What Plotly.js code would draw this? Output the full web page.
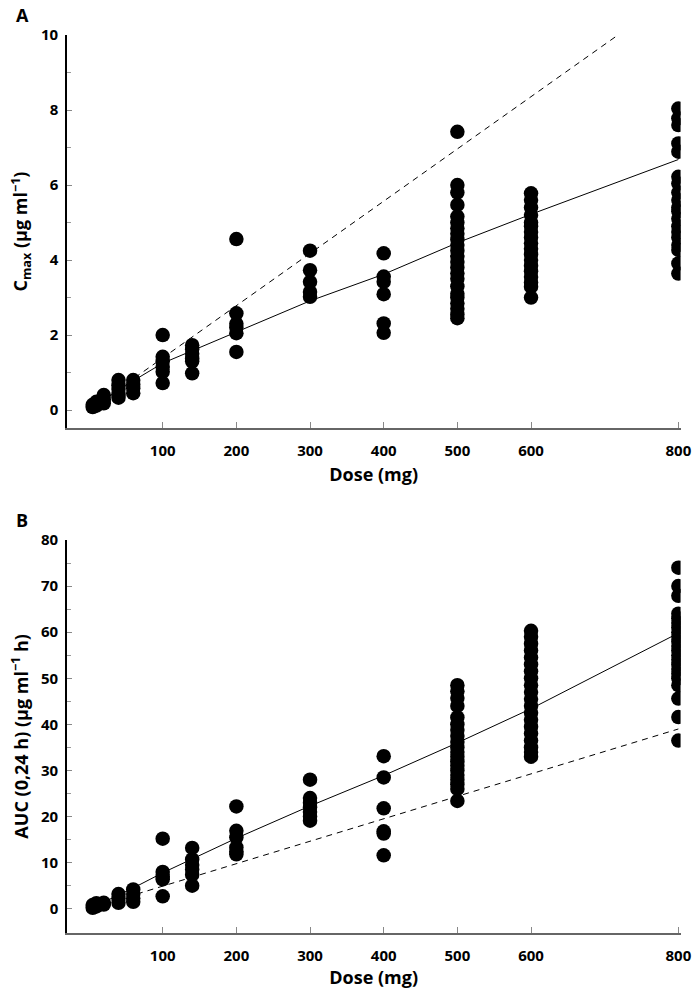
<!DOCTYPE html>
<html>
<head>
<meta charset="utf-8">
<script src="https://cdn.plot.ly/plotly-3.0.1.min.js"></script>
<style>html,body{margin:0;padding:0;background:#fff;}#chart{width:692px;height:989px;}</style>
</head>
<body>
<div id="chart"></div>
<script>
// ---- Data ----
// Panel A: Cmax (µg ml-1) by dose (mg)
const cmaxDose5 = [0.08, 0.14];
const cmaxDose10 = [0.22, 0.12];
const cmaxDose20 = [0.40, 0.28, 0.18];
const cmaxDose40 = [0.80, 0.66, 0.56, 0.42, 0.33];
const cmaxDose60 = [0.80, 0.68, 0.58, 0.45];
const cmaxDose100 = [2.00, 1.42, 1.30, 1.15, 1.02, 0.72];
const cmaxDose140 = [1.73, 1.62, 1.50, 1.38, 1.30, 0.98];
const cmaxDose200 = [4.56, 2.58, 2.30, 2.20, 2.05, 1.55];
const cmaxDose300 = [4.25, 3.73, 3.42, 3.15, 3.02];
const cmaxDose400 = [4.18, 3.56, 3.42, 3.09, 2.31, 2.06];
const cmaxDose500 = [7.42, 6.00, 5.80, 5.47, 5.16, 5.00, 4.85, 4.70, 4.55, 4.40, 4.25, 4.10, 3.95, 3.80, 3.65, 3.50, 3.30, 3.10, 3.00, 2.85, 2.70, 2.55, 2.45];
const cmaxDose600 = [5.78, 5.60, 5.40, 5.20, 5.00, 4.90, 4.75, 4.60, 4.45, 4.30, 4.15, 4.00, 3.85, 3.70, 3.55, 3.40, 3.29, 3.00];
const cmaxDose800 = [8.04, 7.78, 7.60, 7.11, 6.89, 6.22, 6.04, 5.80, 5.60, 5.40, 5.30, 5.10, 4.90, 4.75, 4.60, 4.40, 4.27, 3.91, 3.64];
const cmaxFitDose = [5, 60, 100, 200, 300, 400, 500, 600, 800];
const cmaxFit = [0.08, 0.78, 1.25, 2.09, 2.91, 3.62, 4.46, 5.22, 6.68];
const cmaxPropDose = [62, 718];
const cmaxProp = [0.86, 10.0];

// Panel B: AUC(0,24 h) (µg ml-1 h) by dose (mg)
const aucDose5 = [0.2, 0.8];
const aucDose10 = [0.5, 1.2];
const aucDose20 = [0.9, 1.3];
const aucDose40 = [3.2, 2.2, 1.3];
const aucDose60 = [4.2, 3.2, 2.3, 1.5];
const aucDose100 = [15.2, 8.0, 7.0, 6.4, 2.7];
const aucDose140 = [13.2, 10.7, 9.5, 8.5, 7.4, 5.0];
const aucDose200 = [22.2, 16.9, 15.5, 13.3, 12.5, 11.8];
const aucDose300 = [28.0, 24.0, 23.0, 22.0, 21.0, 20.0, 19.1];
const aucDose400 = [33.1, 28.5, 21.8, 16.8, 16.3, 11.6];
const aucDose500 = [48.5, 47.2, 45.7, 44.0, 41.5, 40.0, 38.8, 37.5, 36.2, 35.0, 34.0, 33.0, 32.0, 31.0, 30.0, 29.0, 28.0, 27.0, 26.0, 23.4];
const aucDose600 = [60.3, 59.0, 57.5, 56.0, 54.5, 53.0, 51.5, 50.0, 48.5, 47.0, 45.5, 44.0, 42.5, 41.0, 39.5, 38.0, 36.5, 35.0, 34.0, 33.0];
const aucDose800 = [74.0, 70.0, 67.9, 64.0, 63.0, 62.0, 61.0, 60.0, 59.0, 58.0, 57.0, 56.0, 55.0, 54.0, 53.0, 52.0, 51.0, 50.0, 48.5, 45.6, 41.6, 36.5];
const aucFitDose = [5, 60, 100, 200, 300, 400, 500, 600, 800];
const aucFit = [0.3, 4.5, 7.8, 15.3, 22.3, 28.9, 36.0, 43.4, 59.8];
const aucPropDose = [65, 800];
const aucProp = [3.2, 39.0];

const doseLevels = [5, 10, 20, 40, 60, 100, 140, 200, 300, 400, 500, 600, 800];
const cmaxGroups = [cmaxDose5, cmaxDose10, cmaxDose20, cmaxDose40, cmaxDose60, cmaxDose100, cmaxDose140, cmaxDose200, cmaxDose300, cmaxDose400, cmaxDose500, cmaxDose600, cmaxDose800];
const aucGroups = [aucDose5, aucDose10, aucDose20, aucDose40, aucDose60, aucDose100, aucDose140, aucDose200, aucDose300, aucDose400, aucDose500, aucDose600, aucDose800];

const xTickVals = [100, 200, 300, 400, 500, 600, 800];
const xTickText = ['100', '200', '300', '400', '500', '600', '800'];
const xExtraTickB = [700];   // unlabelled tick on panel B

function flatten(groups) {
  const xs = [], ys = [];
  groups.forEach((g, i) => g.forEach(v => { xs.push(doseLevels[i]); ys.push(v); }));
  return {xs, ys};
}
const A = flatten(cmaxGroups);
const B = flatten(aucGroups);

const FONT = '"Open Sans", "Liberation Sans", sans-serif';
const marker = {color: '#000', size: 14.5, line: {width: 0}};

const traces = [
  {x: cmaxPropDose, y: cmaxProp, mode: 'lines', line: {color: '#000', width: 1, dash: '6px,5px'}, xaxis: 'x', yaxis: 'y', hoverinfo: 'skip'},
  {x: cmaxFitDose, y: cmaxFit, mode: 'lines', line: {color: '#000', width: 1}, xaxis: 'x', yaxis: 'y', hoverinfo: 'skip'},
  {x: A.xs, y: A.ys, mode: 'markers', marker: marker, xaxis: 'x', yaxis: 'y'},
  {x: aucPropDose, y: aucProp, mode: 'lines', line: {color: '#000', width: 1, dash: '6px,5px'}, xaxis: 'x2', yaxis: 'y2', hoverinfo: 'skip'},
  {x: aucFitDose, y: aucFit, mode: 'lines', line: {color: '#000', width: 1}, xaxis: 'x2', yaxis: 'y2', hoverinfo: 'skip'},
  {x: B.xs, y: B.ys, mode: 'markers', marker: marker, xaxis: 'x2', yaxis: 'y2'}
];

const tickFont = {family: FONT, size: 15, color: '#000', weight: 700};
const xTitleFont = {family: FONT, size: 18, color: '#000', weight: 700};
const yTitleFont = {family: FONT, size: 18, color: '#000', weight: 700};
const XRANGE = [-30.3, 803];
const XDOMAIN = [0.0964, 0.9835];

function xAxis(anchor) {
  return {
    domain: XDOMAIN, anchor: anchor, range: XRANGE,
    showgrid: false, zeroline: false, showline: true, linecolor: '#666', linewidth: 2,
    tickmode: 'array', tickvals: xTickVals, ticktext: xTickText,
    ticks: 'inside', ticklen: 6, tickcolor: '#888', tickwidth: 1,
    tickfont: tickFont, ticklabelstandoff: 8,
    title: {text: 'Dose (mg)', font: xTitleFont, standoff: 9}
  };
}
function yAxis(domain, anchor, range, dtick, title) {
  return {
    domain: domain, anchor: anchor, range: range,
    showgrid: false, zeroline: false, showline: true, linecolor: '#000', linewidth: 1.5,
    tick0: 0, dtick: dtick, ticks: 'inside', ticklen: 5, tickcolor: '#888', tickwidth: 1,
    minor: {dtick: dtick / 2, ticks: 'inside', ticklen: 4, tickcolor: '#999', tickwidth: 1, showgrid: false},
    tickfont: tickFont, ticklabelstandoff: 4,
    title: {text: title, font: yTitleFont, standoff: 8}
  };
}

const layout = {
  width: 692, height: 989,
  margin: {l: 0, r: 0, t: 0, b: 0},
  paper_bgcolor: '#fff', plot_bgcolor: '#fff',
  showlegend: false,
  font: {family: FONT, color: '#000'},
  xaxis: xAxis('y'),
  yaxis: yAxis([0.5672, 0.9646], 'x', [-0.48, 10], 2, 'C<sub>max</sub> (μg ml<sup>−1</sup>)'),
  xaxis2: xAxis('y2'),
  yaxis2: yAxis([0.0569, 0.4540], 'x2', [-5.2, 80], 10, 'AUC (0,24 h) (μg ml<sup>−1</sup> h)'),
  xaxis3: {
    domain: XDOMAIN, anchor: 'y2', overlaying: 'x2', range: XRANGE,
    showgrid: false, zeroline: false, showline: false, showticklabels: false,
    tickmode: 'array', tickvals: xExtraTickB,
    ticks: 'inside', ticklen: 6, tickcolor: '#888', tickwidth: 1
  },
  annotations: [
    {text: 'A', xref: 'paper', yref: 'paper', x: 22 / 692, y: 1 - 15 / 989, xanchor: 'center', yanchor: 'middle', showarrow: false, font: {family: FONT, size: 18, weight: 700, color: '#000'}},
    {text: 'B', xref: 'paper', yref: 'paper', x: 22 / 692, y: 1 - 520 / 989, xanchor: 'center', yanchor: 'middle', showarrow: false, font: {family: FONT, size: 18, weight: 700, color: '#000'}}
  ]
};

Plotly.newPlot('chart', traces, layout, {displayModeBar: false, staticPlot: true});
</script>
</body>
</html>
